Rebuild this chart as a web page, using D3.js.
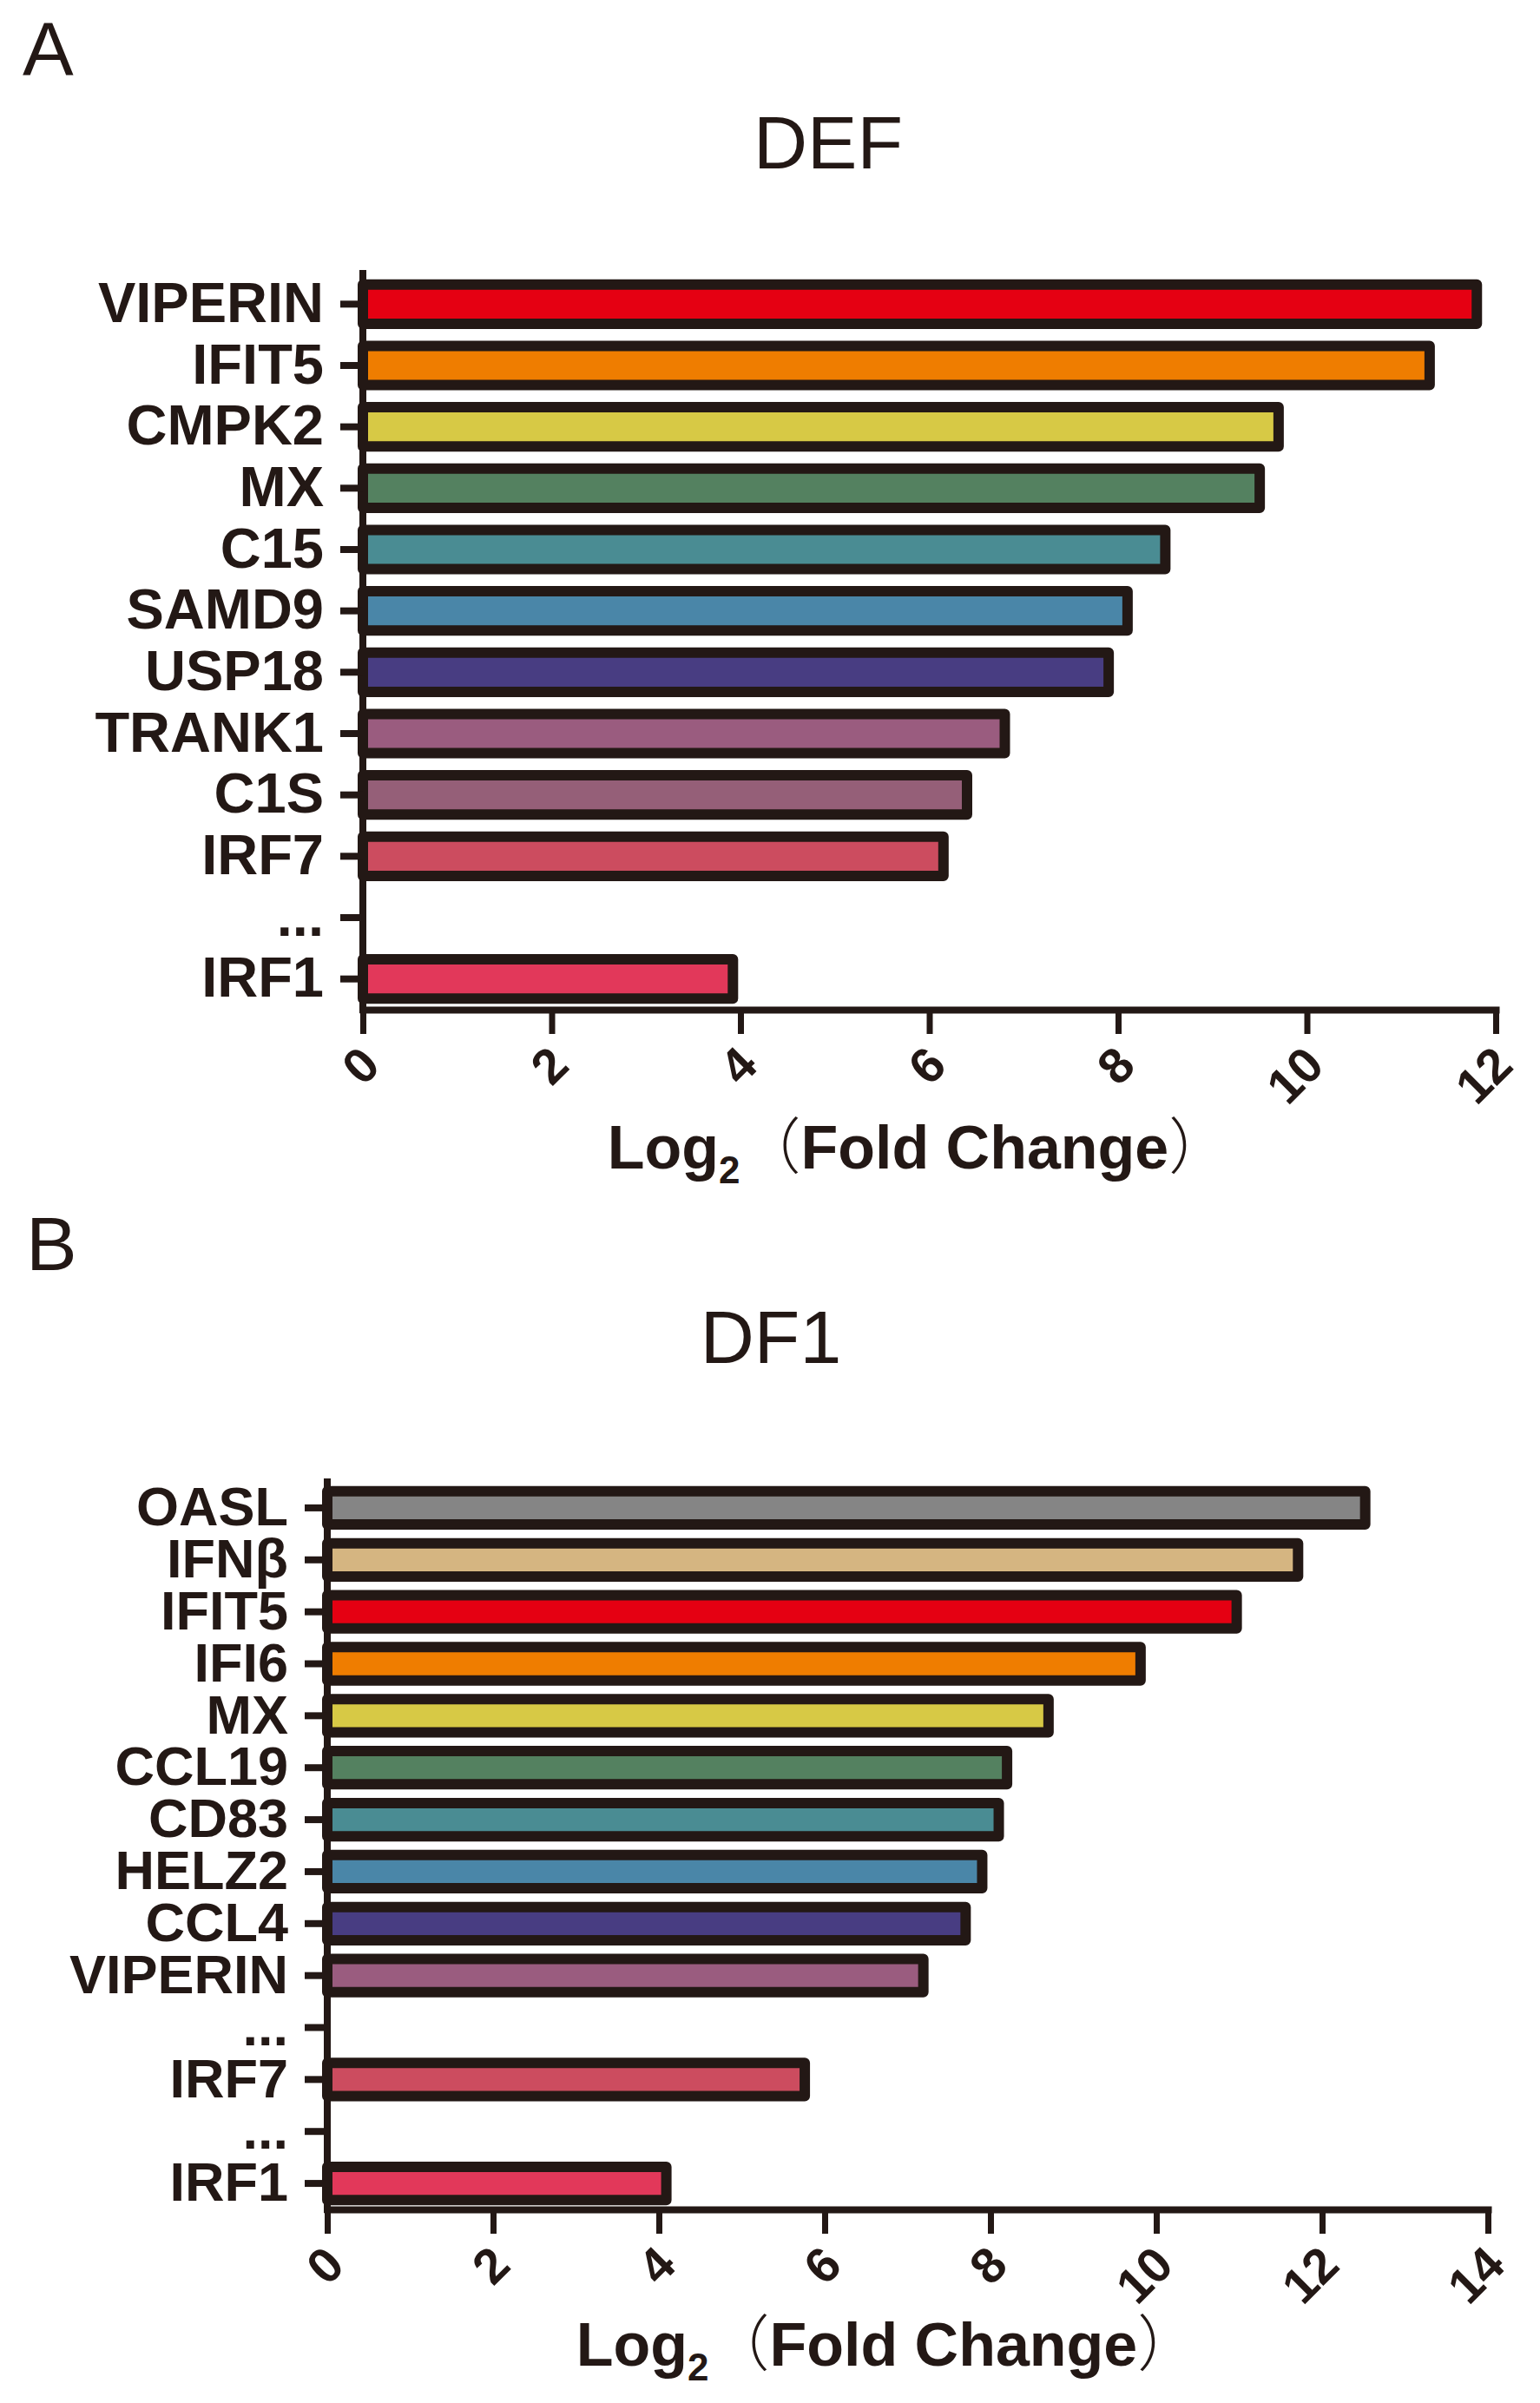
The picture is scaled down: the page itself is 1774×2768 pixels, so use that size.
<!DOCTYPE html>
<html>
<head>
<meta charset="UTF-8">
<title>DEF / DF1 Log2 Fold Change</title>
<script src="https://d3js.org/d3.v7.min.js"></script>
<style>
  body { margin: 0; background: #fff; }
  text { font-family: "Liberation Sans", Arial, "Noto Sans CJK SC", sans-serif; fill: #231815; }
</style>
</head>
<body>
<div id="chart"></div>
<script>
// data, panel A (DEF)
const defGenes  = ["VIPERIN", "IFIT5", "CMPK2", "MX", "C15", "SAMD9", "USP18", "TRANK1", "C1S", "IRF7", "...", "IRF1"];
const defValues = [11.8, 11.3, 9.7, 9.5, 8.5, 8.1, 7.9, 6.8, 6.4, 6.15, null, 3.92];
const defColors = ["#e50012", "#ef7d00", "#d7c945", "#548160", "#4a8c93", "#4a86a8", "#483d82", "#9a5c7f", "#955f78", "#cc4c5f", null, "#e2385a"];
const defTicks  = [0, 2, 4, 6, 8, 10, 12];

// data, panel B (DF1)
const df1Genes  = ["OASL", "IFNβ", "IFIT5", "IFI6", "MX", "CCL19", "CD83", "HELZ2", "CCL4", "VIPERIN", "...", "IRF7", "...", "IRF1"];
const df1Values = [12.52, 11.71, 10.97, 9.81, 8.7, 8.2, 8.1, 7.9, 7.7, 7.19, null, 5.76, null, 4.09];
const df1Colors = ["#858585", "#d5b581", "#e50012", "#ef7d00", "#d7c945", "#548160", "#4a8c93", "#4a86a8", "#483d82", "#9a5c7f", null, "#cc4c5f", null, "#e2385a"];
const df1Ticks  = [0, 2, 4, 6, 8, 10, 12, 14];

const ink = "#231815";

const svg = d3.select("#chart").append("svg")
    .attr("width", 1774)
    .attr("height", 2768);

svg.append("rect").attr("width", 1774).attr("height", 2768).attr("fill", "#fff");

function drawPanel(p) {
    const x = d3.scaleLinear()
        .domain([0, d3.max(p.ticks)])
        .range([p.x0, p.x1]);

    const y = d3.scaleBand()
        .domain(p.genes.map((g, i) => i))
        .range([p.y0, p.y1])
        .paddingInner(0.36)
        .paddingOuter(0.18);

    const g = svg.append("g");

    // panel letter + title
    g.append("text")
        .attr("x", p.letterX).attr("y", p.letterY)
        .style("font-size", "88px")
        .text(p.letter);

    g.append("text")
        .attr("x", p.titleX).attr("y", p.titleY)
        .attr("text-anchor", "middle")
        .style("font-size", "86px")
        .text(p.title);

    // bars
    const rows = p.genes.map((name, i) => ({i, name, v: p.values[i], c: p.colors[i]}))
        .filter(d => d.v != null);

    g.selectAll("rect.bar")
        .data(rows)
        .join("rect")
        .attr("class", "bar")
        .attr("x", x(0))
        .attr("y", d => y(d.i))
        .attr("width", d => x(d.v) - x(0))
        .attr("height", y.bandwidth())
        .attr("fill", d => d.c)
        .attr("stroke", ink)
        .attr("stroke-width", 12)
        .attr("stroke-linejoin", "round");

    // y axis
    const ya = g.append("g")
        .attr("transform", `translate(${x(0)},0)`)
        .call(d3.axisLeft(y)
            .tickSize(26)
            .tickSizeOuter(0)
            .tickPadding(19)
            .tickFormat(i => p.genes[i]));
    ya.select(".domain")
        .attr("d", `M0,${p.y0}V${p.y1}`)
        .attr("stroke", ink).attr("stroke-width", 8).attr("stroke-linecap", "square");
    ya.selectAll(".tick line").attr("stroke", ink).attr("stroke-width", 8);
    ya.selectAll(".tick text")
        .attr("fill", ink)
        .style("font-size", p.labelSize + "px")
        .style("font-weight", "bold")
        .style("font-family", '"Liberation Sans", Arial, sans-serif');

    // x axis
    const xa = g.append("g")
        .attr("transform", `translate(0,${p.y1})`)
        .call(d3.axisBottom(x)
            .tickValues(p.ticks)
            .tickSize(28)
            .tickSizeOuter(0)
            .tickFormat(d3.format("d")));
    xa.select(".domain")
        .attr("stroke", ink).attr("stroke-width", 8).attr("stroke-linecap", "square");
    xa.selectAll(".tick line").attr("stroke", ink).attr("stroke-width", 7);
    xa.selectAll(".tick text")
        .attr("x", 0).attr("y", 0).attr("dy", null)
        .attr("text-anchor", "end")
        .attr("transform", "translate(22,67) rotate(-45)")
        .attr("fill", ink)
        .style("font-size", "57px")
        .style("font-weight", "bold")
        .style("font-family", '"Liberation Sans", Arial, sans-serif');

    // axis title: Log2（Fold Change）
    const t = g.append("text")
        .attr("x", p.axisTitleX).attr("y", p.axisTitleY)
        .attr("text-anchor", "middle")
        .style("font-size", "70px")
        .style("font-weight", "bold");
    t.append("tspan").text("Log");
    t.append("tspan").attr("dy", 17).style("font-size", "44px").text("2");
    t.append("tspan").attr("dy", -17).style("font-weight", "300")
        .style("font-family", '"Noto Sans CJK SC", sans-serif').text("（");
    t.append("tspan").text("Fold Change");
    t.append("tspan").style("font-weight", "300")
        .style("font-family", '"Noto Sans CJK SC", sans-serif').text("）");
}

drawPanel({
    letter: "A", letterX: 26, letterY: 87,
    title: "DEF", titleX: 954, titleY: 194,
    genes: defGenes, values: defValues, colors: defColors, ticks: defTicks,
    labelSize: 65,
    x0: 418, x1: 1723, y0: 315, y1: 1163,
    axisTitleX: 1058, axisTitleY: 1346
});

drawPanel({
    letter: "B", letterX: 30, letterY: 1463,
    title: "DF1", titleX: 888, titleY: 1570,
    genes: df1Genes, values: df1Values, colors: df1Colors, ticks: df1Ticks,
    labelSize: 63,
    x0: 377, x1: 1714, y0: 1707, y1: 2545,
    axisTitleX: 1022, axisTitleY: 2725
});
</script>
</body>
</html>
